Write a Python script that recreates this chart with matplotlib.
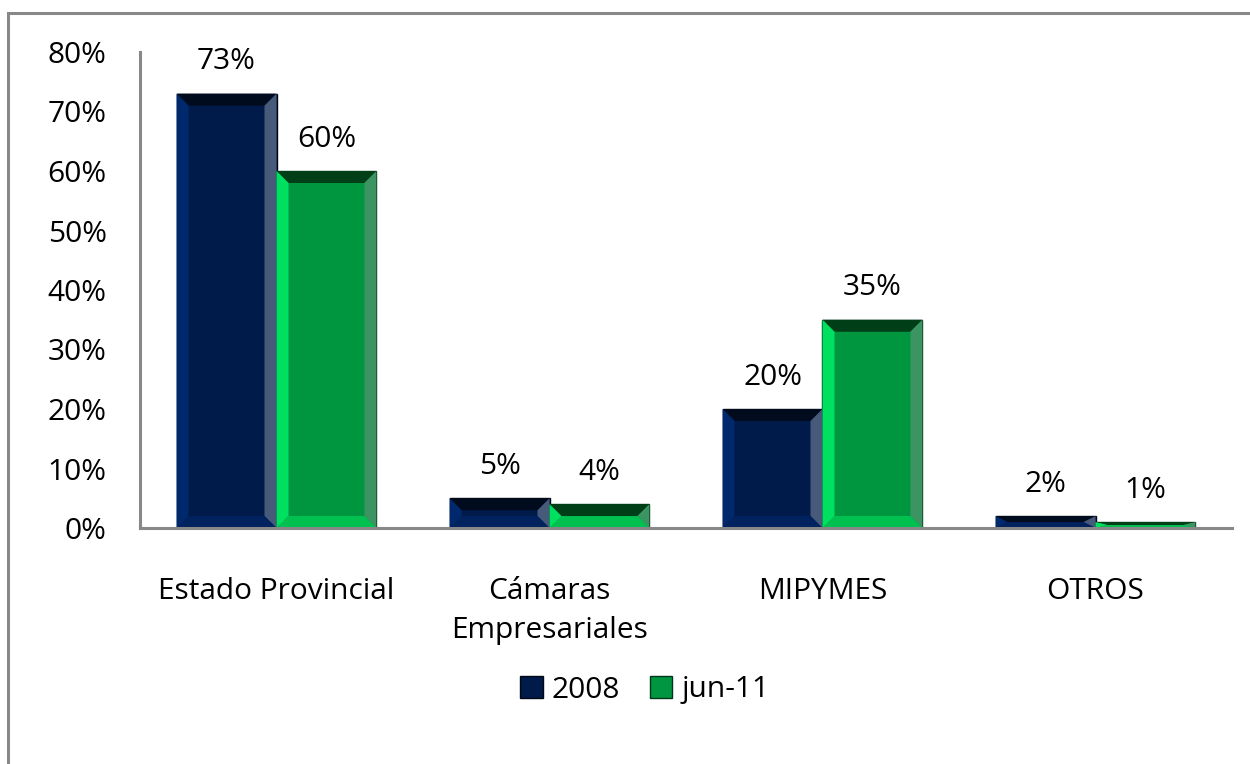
import numpy as np
import matplotlib.pyplot as plt
from matplotlib.patches import Rectangle, Polygon

# Datos
categorias = ['Estado Provincial', 'Cámaras\nEmpresariales', 'MIPYMES', 'OTROS']
serie_2008 = [0.73, 0.05, 0.20, 0.02]
serie_jun11 = [0.60, 0.04, 0.35, 0.01]
etiquetas_2008 = ['73%', '5%', '20%', '2%']
etiquetas_jun11 = ['60%', '4%', '35%', '1%']

plt.rcParams['font.family'] = ['Open Sans', 'DejaVu Sans']
FS = 21.5

# colores: cuerpo, arriba, izquierda, derecha, abajo, borde
col_2008 = dict(body='#001a4a', top='#000b1e', left='#00286c', right='#485a7a',
                bottom='#00225e', edge='#000814')
col_jun11 = dict(body='#009640', top='#003e18', left='#00e060', right='#3c9462',
                 bottom='#00c050', edge='#00361a')

fig = plt.figure(figsize=(12.5, 7.64), dpi=100)
# marco exterior
fig.patches.append(Rectangle((8 / 1250, -0.05), 1.1, (764 - 13) / 764 + 0.05,
                             transform=fig.transFigure, fill=False,
                             edgecolor='#888888', linewidth=2.2))

ax = fig.add_axes([140 / 1250, (764 - 528) / 764, (1232 - 140) / 1250, (528 - 52) / 764])
ax.set_xlim(-0.5, len(categorias) - 0.5)
ax.set_ylim(0, 0.8)

x = np.arange(len(categorias))
ancho = 0.366
b1 = ax.bar(x - ancho / 2, serie_2008, ancho, color=col_2008['body'],
            edgecolor=col_2008['edge'], linewidth=1.0, label='2008', zorder=2)
b2 = ax.bar(x + ancho / 2, serie_jun11, ancho, color=col_jun11['body'],
            edgecolor=col_jun11['edge'], linewidth=1.0, label='jun-11', zorder=2)

# efecto bisel (aprox. 12 px)
px_x = (1232 - 140) / len(categorias)
px_y = (528 - 52) / 0.8
bisel = 12


def biselar(barras, col):
    for b in barras:
        x0, w, h = b.get_x(), b.get_width(), b.get_height()
        x1 = x0 + w
        dx = bisel / px_x
        dy = min(bisel / px_y, h / 2)
        caras = [
            ([(x0, h), (x1, h), (x1 - dx, h - dy), (x0 + dx, h - dy)], col['top']),
            ([(x0, 0), (x0, h), (x0 + dx, h - dy), (x0 + dx, dy)], col['left']),
            ([(x1, 0), (x1, h), (x1 - dx, h - dy), (x1 - dx, dy)], col['right']),
            ([(x0, 0), (x1, 0), (x1 - dx, dy), (x0 + dx, dy)], col['bottom']),
        ]
        for pts, c in caras:
            ax.add_patch(Polygon(pts, closed=True, facecolor=c, edgecolor='none', zorder=2.1))


biselar(b1, col_2008)
biselar(b2, col_jun11)

for barras, etiquetas in [(b1, etiquetas_2008), (b2, etiquetas_jun11)]:
    for b, t in zip(barras, etiquetas):
        ax.annotate(t, (b.get_x() + b.get_width() / 2, b.get_height()),
                    xytext=(0, 23), textcoords='offset points',
                    ha='center', va='center', fontsize=FS)

ax.set_yticks(np.arange(0, 0.81, 0.1))
ax.set_yticklabels([f'{int(round(v * 100))}%' for v in np.arange(0, 0.81, 0.1)], fontsize=FS)
ax.set_xticks(x)
ax.set_xticklabels(categorias, fontsize=FS, linespacing=1.45, va='top')
ax.tick_params(axis='both', length=0)
ax.tick_params(axis='y', pad=24)
ax.tick_params(axis='x', pad=35)

for s in ['top', 'right']:
    ax.spines[s].set_visible(False)
for s in ['left', 'bottom']:
    ax.spines[s].set_color('#888888')
    ax.spines[s].set_linewidth(2.2)
    ax.spines[s].set_zorder(3)

fig.legend(handles=[b1, b2], loc='center', bbox_to_anchor=(645 / 1250, (764 - 690) / 764),
           ncol=2, frameon=False, fontsize=FS, handlelength=0.75, handleheight=0.75,
           handletextpad=0.3, columnspacing=1.0)

fig.savefig('out.png', dpi=100)
